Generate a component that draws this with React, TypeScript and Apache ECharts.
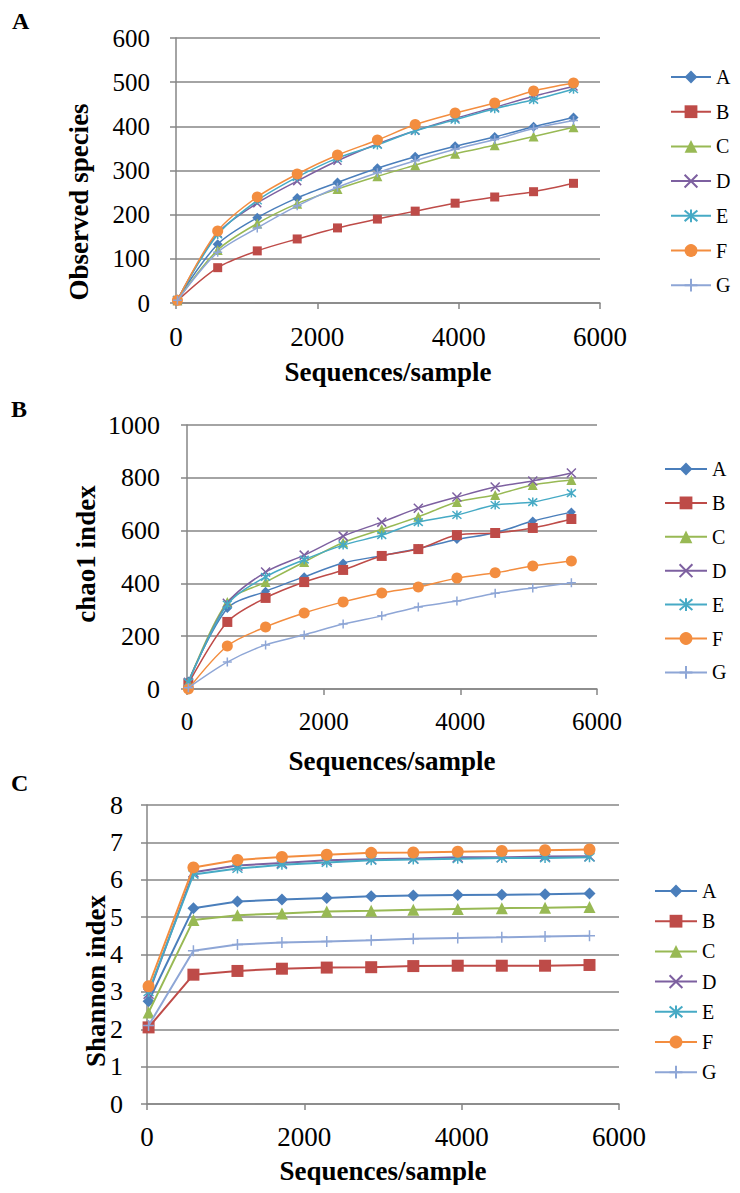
import React, { useEffect, useRef } from "react";
import * as echarts from "echarts";

const seriesNames = ["A", "B", "C", "D", "E", "F", "G"];
const seqPerSample = [20, 590, 1150, 1715, 2285, 2850, 3385, 3950, 4510, 5060, 5625];

// Panel A: Observed species
const obsA = [8, 133, 193, 238, 273, 305, 331, 355, 376, 399, 420];
const obsB = [5, 80, 118, 145, 170, 190, 208, 226, 240, 252, 271];
const obsC = [6, 120, 180, 225, 258, 287, 312, 338, 357, 377, 398];
const obsD = [7, 158, 226, 276, 322, 360, 390, 418, 443, 468, 490];
const obsE = [7, 155, 232, 285, 328, 358, 390, 415, 440, 460, 484];
const obsF = [6, 163, 240, 292, 335, 369, 404, 430, 453, 480, 498];
const obsG = [6, 115, 170, 220, 262, 295, 322, 348, 370, 395, 413];

// Panel B: chao1 index
const chaoA = [30, 305, 370, 425, 477, 505, 532, 566, 592, 636, 670];
const chaoB = [20, 254, 345, 405, 451, 504, 530, 583, 591, 610, 644];
const chaoC = [25, 330, 405, 481, 555, 605, 652, 708, 735, 773, 792];
const chaoD = [25, 325, 443, 507, 579, 632, 685, 727, 765, 788, 818];
const chaoE = [25, 320, 425, 490, 545, 583, 632, 659, 697, 708, 742];
const chaoF = [0, 163, 235, 288, 330, 364, 386, 420, 440, 466, 485];
const chaoG = [5, 102, 167, 205, 246, 277, 311, 333, 363, 383, 402];

// Panel C: Shannon index
const shanA = [2.75, 5.24, 5.42, 5.47, 5.51, 5.56, 5.58, 5.59, 5.6, 5.61, 5.63];
const shanB = [2.05, 3.46, 3.56, 3.62, 3.65, 3.66, 3.69, 3.7, 3.7, 3.7, 3.72];
const shanC = [2.45, 4.92, 5.05, 5.1, 5.15, 5.17, 5.2, 5.22, 5.24, 5.25, 5.27];
const shanD = [2.95, 6.2, 6.38, 6.45, 6.52, 6.55, 6.57, 6.6, 6.6, 6.62, 6.63];
const shanE = [3.0, 6.14, 6.3, 6.4, 6.46, 6.52, 6.54, 6.56, 6.58, 6.58, 6.6];
const shanF = [3.15, 6.33, 6.53, 6.61, 6.67, 6.72, 6.73, 6.75, 6.77, 6.79, 6.81];
const shanG = [2.1, 4.1, 4.27, 4.32, 4.35, 4.38, 4.42, 4.44, 4.46, 4.48, 4.5];

const xTicks = [0, 2000, 4000, 6000];
const panelLetters = ["A", "B", "C"];
const yTitles = ["Observed species", "chao1 index", "Shannon index"];
const xTitle = "Sequences/sample";

const colors = ["#4A7EBB", "#BE4B48", "#98B954", "#7D60A0", "#46AAC5", "#F38D3F", "#8EA6D6"];
const symbols = [
  "diamond",
  "rect",
  "triangle",
  "path://M0,0L10,10M10,0L0,10",
  "path://M0,0L10,10M10,0L0,10M5,-1L5,11",
  "circle",
  "path://M5,0L5,10M0,5L10,5",
];
const strokeSymbol = [false, false, false, true, true, false, true];

const FONT = "'Times New Roman', 'Liberation Serif', serif";

export default function App() {
  const ref = useRef<HTMLDivElement>(null);

  useEffect(() => {
    if (!ref.current) return;
    const chart = echarts.init(ref.current, null, { renderer: "svg" });

    const panels = [
      { data: [obsA, obsB, obsC, obsD, obsE, obsF, obsG], max: 600, interval: 100, smooth: true,
        grid: { left: 168, top: 30, width: 424, height: 265 },
        yFont: 25, xFont: 27, yMargin: 26, xMargin: 20, nameGap: 55,
        sizes: [10, 9, 10, 8, 9, 11, 9], lw: 1.5,
        legend: { left: 657, top: 54, gap: 14.7, w: 40 },
        yTitle: [71, 194], letter: [4, 13] },
      { data: [chaoA, chaoB, chaoC, chaoD, chaoE, chaoF, chaoG], max: 1000, interval: 200, smooth: true,
        grid: { left: 179, top: 417, width: 410, height: 264 },
        yFont: 26, xFont: 25, yMargin: 27, xMargin: 20, nameGap: 58,
        sizes: [9, 10, 10, 9, 9, 11, 9], lw: 1.5,
        legend: { left: 651, top: 446, gap: 13.9, w: 42 },
        yTitle: [78, 546], letter: [3, 401] },
      { data: [shanA, shanB, shanC, shanD, shanE, shanF, shanG], max: 8, interval: 1, smooth: false,
        grid: { left: 139, top: 797, width: 472, height: 304 },
        yFont: 26, xFont: 27, yMargin: 24, xMargin: 19, nameGap: 53,
        sizes: [12, 12, 12, 10, 10, 12, 11], lw: 2,
        legend: { left: 641, top: 868, gap: 10.2, w: 42 },
        yTitle: [88, 973], letter: [3, 775] },
    ];

    const grid: any[] = [];
    const xAxis: any[] = [];
    const yAxis: any[] = [];
    const series: any[] = [];
    const legend: any[] = [];
    const graphic: any[] = [];
    const plain = (v: number) => String(v);

    panels.forEach((p, gi) => {
      grid.push({ ...p.grid, containLabel: false });
      xAxis.push({
        type: "value", gridIndex: gi, min: xTicks[0], max: xTicks[xTicks.length - 1], interval: 2000,
        name: xTitle, nameLocation: "middle", nameGap: p.nameGap,
        nameTextStyle: { fontFamily: FONT, fontWeight: "bold", fontSize: 27, color: "#000" },
        axisLine: { show: true, lineStyle: { color: "#868686", width: 1.5 } },
        axisTick: { show: true, length: 6, lineStyle: { color: "#868686", width: 1.5 } },
        axisLabel: { fontFamily: FONT, fontSize: p.xFont, color: "#000", margin: p.xMargin, formatter: plain },
        splitLine: { show: false },
      });
      yAxis.push({
        type: "value", gridIndex: gi, min: 0, max: p.max, interval: p.interval,
        axisLine: { show: true, lineStyle: { color: "#868686", width: 1.5 } },
        axisTick: { show: true, length: 6, lineStyle: { color: "#868686", width: 1.5 } },
        axisLabel: { fontFamily: FONT, fontSize: p.yFont, color: "#000", margin: p.yMargin, formatter: plain },
        splitLine: { show: true, lineStyle: { color: "#868686", width: 1.5 } },
      });
      p.data.forEach((vals, si) => {
        const c = colors[si];
        series.push({
          type: "line", name: seriesNames[si], xAxisIndex: gi, yAxisIndex: gi,
          data: seqPerSample.map((x, i) => [x, vals[i]]),
          smooth: p.smooth ? 0.3 : false,
          symbol: symbols[si], symbolSize: p.sizes[si], showSymbol: true,
          lineStyle: { color: c, width: p.lw },
          itemStyle: strokeSymbol[si]
            ? { color: c, borderColor: c, borderWidth: 1.5 }
            : { color: c, borderWidth: 0 },
          z: 2 + si,
        });
      });
      legend.push({
        orient: "vertical", left: p.legend.left, top: p.legend.top,
        itemWidth: p.legend.w, itemHeight: 16, itemGap: p.legend.gap,
        data: seriesNames,
        textStyle: { fontFamily: FONT, fontSize: 20, color: "#000" },
        selectedMode: false,
      });
      graphic.push({
        type: "text", x: p.yTitle[0], y: p.yTitle[1], rotation: Math.PI / 2,
        style: { text: yTitles[gi], fontFamily: FONT, fontWeight: "bold", fontSize: 27, fill: "#000",
          textAlign: "center", textVerticalAlign: "middle" },
      });
      graphic.push({
        type: "text", x: p.letter[0], y: p.letter[1],
        style: { text: panelLetters[gi], fontFamily: FONT, fontWeight: "bold", fontSize: 24, fill: "#000",
          textAlign: "left", textVerticalAlign: "middle" },
      });
    });

    chart.setOption({
      animation: false,
      backgroundColor: "#fff",
      grid, xAxis, yAxis, series, legend, graphic,
    });
    return () => chart.dispose();
  }, []);

  return <div ref={ref} style={{ width: 724, height: 1177 }} />;
}
